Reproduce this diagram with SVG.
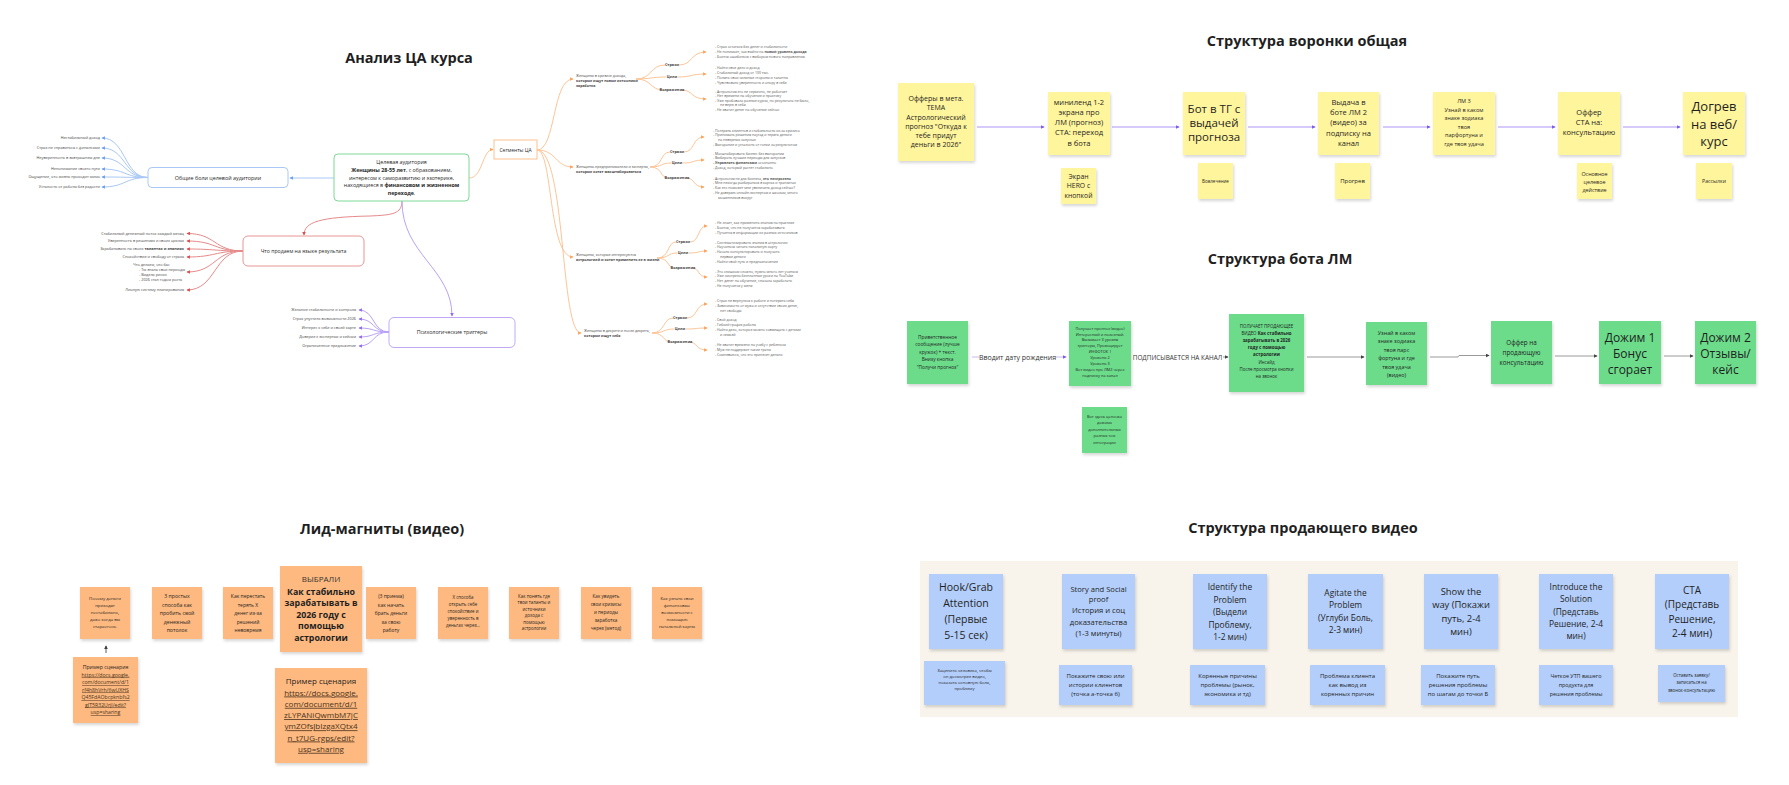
<svg xmlns="http://www.w3.org/2000/svg" width="1789" height="785" viewBox="0 0 1789 785">
<style>
text{font-family:"Open Sans","Liberation Sans",sans-serif;fill:#1f1f1f}
.title{font-size:14.5px;font-weight:700;text-anchor:middle}
.c{text-anchor:middle}
.r{text-anchor:end}
.b{font-weight:700}
.mm{fill:#fff;stroke-width:1}
.leaf{font-size:3.8px;fill:#444}
.seg{font-size:3.6px;fill:#444}
.lst{font-size:3.5px;fill:#555}
.lbl{font-size:3.8px;font-weight:700;fill:#444}
.y{fill:#fff59c}
.g{fill:#6cdc8b}
.o{fill:#fdb97f}
.bl{fill:#b3cefa}
.lnk{text-decoration:underline;fill:#4a3320}
.cb{fill:none;stroke:#a9c8f5;stroke-width:1}
.cr{fill:none;stroke:#e68a8a;stroke-width:1}
.cp{fill:none;stroke:#b9a2f6;stroke-width:1}
.co{fill:none;stroke:#fdc597;stroke-width:1}
.cf{fill:none;stroke:#c9b8f8;stroke-width:1.5}
.cg{fill:none;stroke:#9a9a9a;stroke-width:1}
</style>
<defs>
<filter id="sh" x="-10%" y="-10%" width="130%" height="130%"><feDropShadow dx="1" dy="2" stdDeviation="1.6" flood-color="#000" flood-opacity="0.16"/></filter>
<marker id="mb" viewBox="0 0 6 6" refX="5" refY="3" markerWidth="3.5" markerHeight="3.5" orient="auto" markerUnits="userSpaceOnUse"><path d="M0,0 L6,3 L0,6z" fill="#6d9ff0"/></marker>
<marker id="mr" viewBox="0 0 6 6" refX="5" refY="3" markerWidth="3.5" markerHeight="3.5" orient="auto" markerUnits="userSpaceOnUse"><path d="M0,0 L6,3 L0,6z" fill="#d94c4c"/></marker>
<marker id="mp" viewBox="0 0 6 6" refX="5" refY="3" markerWidth="3.5" markerHeight="3.5" orient="auto" markerUnits="userSpaceOnUse"><path d="M0,0 L6,3 L0,6z" fill="#8f6cf0"/></marker>
<marker id="mo" viewBox="0 0 6 6" refX="5" refY="3" markerWidth="3.5" markerHeight="3.5" orient="auto" markerUnits="userSpaceOnUse"><path d="M0,0 L6,3 L0,6z" fill="#fba35c"/></marker>
<marker id="mf" viewBox="0 0 6 6" refX="5" refY="3" markerWidth="4" markerHeight="4" orient="auto" markerUnits="userSpaceOnUse"><path d="M0,0 L6,3 L0,6z" fill="#7b5cf0"/></marker>
<marker id="mg" viewBox="0 0 6 6" refX="5" refY="3" markerWidth="4" markerHeight="4" orient="auto" markerUnits="userSpaceOnUse"><path d="M0,0 L6,3 L0,6z" fill="#444"/></marker>
</defs>
<rect width="1789" height="785" fill="#fff"/>

<!-- ===== Анализ ЦА курса ===== -->
<text class="title" x="409" y="63">Анализ ЦА курса</text>

<g id="connectors-mindmap">
<path class="cb" d="M334,178 L290,178" marker-end="url(#mb)"/>
<path class="co" d="M469,178 C483,178 482,149.5 493,149.5" marker-end="url(#mo)"/>
<path class="cr" d="M402,201 C402,214 392,215 370,216 C320,217 304,222 304,235" marker-end="url(#mr)"/>
<path class="cp" d="M402,201 C402,255 452,268 452,316" marker-end="url(#mp)"/>
<path class="cb" d="M148,177.5 C124,177.5 126,138 102,138" marker-end="url(#mb)"/>
<path class="cb" d="M148,177.5 C124,177.5 126,148 102,148" marker-end="url(#mb)"/>
<path class="cb" d="M148,177.5 C124,177.5 126,158 102,158" marker-end="url(#mb)"/>
<path class="cb" d="M148,177.5 C124,177.5 126,169 102,169" marker-end="url(#mb)"/>
<path class="cb" d="M148,177.5 C124,177.5 126,177 102,177" marker-end="url(#mb)"/>
<path class="cb" d="M148,177.5 C124,177.5 126,187 102,187" marker-end="url(#mb)"/>
<path class="cr" d="M243,251 C214,251 216,233.5 187,233.5" marker-end="url(#mr)"/>
<path class="cr" d="M243,251 C214,251 216,241 187,241" marker-end="url(#mr)"/>
<path class="cr" d="M243,251 C214,251 216,249 187,249" marker-end="url(#mr)"/>
<path class="cr" d="M243,251 C214,251 216,257 187,257" marker-end="url(#mr)"/>
<path class="cr" d="M243,251 C214,251 216,272 187,272" marker-end="url(#mr)"/>
<path class="cr" d="M243,251 C214,251 216,290 187,290" marker-end="url(#mr)"/>
<path class="cp" d="M389,332 C372,332 375,310 359,310" marker-end="url(#mp)"/>
<path class="cp" d="M389,332 C372,332 375,319 359,319" marker-end="url(#mp)"/>
<path class="cp" d="M389,332 C372,332 375,328 359,328" marker-end="url(#mp)"/>
<path class="cp" d="M389,332 C372,332 375,337 359,337" marker-end="url(#mp)"/>
<path class="cp" d="M389,332 C372,332 375,346 359,346" marker-end="url(#mp)"/>
<path class="co" d="M537,150 C556,150 552,79 573,79" marker-end="url(#mo)"/>
<path class="co" d="M537,150 C557,150 555,167 573,167" marker-end="url(#mo)"/>
<path class="co" d="M537,150 C553,150 548,257 573,257" marker-end="url(#mo)"/>
<path class="co" d="M537,150 C566,150 560,333 581,333" marker-end="url(#mo)"/>
<path class="co" d="M636,79 C652,79 650,65 665,65 M679,65 C693,65 690,52 706,52" marker-end="url(#mo)"/>
<path class="co" d="M636,79 C652,79 650,77 666,77 M678,77 C692,77 690,74 706,74" marker-end="url(#mo)"/>
<path class="co" d="M636,79 C652,79 650,90 663,90 M681,90 C694,90 690,99 706,99" marker-end="url(#mo)"/>
<path class="co" d="M650,167 C663,167 660,152 670,152 M684,152 C695,152 692,137 704,137" marker-end="url(#mo)"/>
<path class="co" d="M650,167 C663,167 660,163 671,163 M683,163 C695,163 692,160 704,160" marker-end="url(#mo)"/>
<path class="co" d="M650,167 C663,167 660,178 668,178 M686,178 C696,178 692,187 704,187" marker-end="url(#mo)"/>
<path class="co" d="M657,258 C670,258 667,242 676,242 M690,242 C700,242 697,226 707,226" marker-end="url(#mo)"/>
<path class="co" d="M657,258 C670,258 667,253 677,253 M689,253 C700,253 697,251 707,251" marker-end="url(#mo)"/>
<path class="co" d="M657,258 C670,258 667,268 674,268 M692,268 C700,268 697,277 707,277" marker-end="url(#mo)"/>
<path class="co" d="M652,333 C665,333 663,318 673,318 M687,318 C698,318 695,304 707,304" marker-end="url(#mo)"/>
<path class="co" d="M652,333 C665,333 663,329 674,329 M686,329 C698,329 695,328 707,328" marker-end="url(#mo)"/>
<path class="co" d="M652,333 C665,333 663,342 671,342 M689,342 C698,342 695,350 707,350" marker-end="url(#mo)"/>
</g>

<g id="node-central">
<rect class="mm" x="334" y="154" width="135" height="47" rx="4" stroke="#7fd894"/>
<text class="c" x="401.5" y="164" font-size="5.3">Целевая аудитория</text>
<text class="c" x="401.5" y="171.8" font-size="5.3"><tspan class="b">Женщины 28-55 лет</tspan>, с образованием,</text>
<text class="c" x="401.5" y="179.6" font-size="5.3">интересом к саморазвитию и эзотерике,</text>
<text class="c" x="401.5" y="187.4" font-size="5.3">находящиеся в <tspan class="b">финансовом и жизненном</tspan></text>
<text class="c" x="401.5" y="195.2" font-size="5.3"><tspan class="b">переходе</tspan>.</text>
</g>
<g id="node-segments">
<rect class="mm" x="494" y="140" width="43" height="19" stroke="#fdc08f"/>
<text class="c" x="515.5" y="151.5" font-size="5">Сегменты ЦА</text>
</g>
<g id="node-pains">
<rect class="mm" x="148" y="167.5" width="140" height="20" rx="4" stroke="#a9c8f5"/>
<text class="c" x="218" y="179.5" font-size="5.4">Общие боли целевой аудитории</text>
</g>
<g id="node-sell">
<rect class="mm" x="243" y="236" width="121" height="30" rx="5" stroke="#e89595"/>
<text class="c" x="303.5" y="252.8" font-size="5.2">Что продаем на языке результата</text>
</g>
<g id="node-triggers">
<rect class="mm" x="389" y="317.5" width="126" height="30" rx="5" stroke="#bfa9f7"/>
<text class="c" x="452" y="334.3" font-size="5.3">Психологические триггеры</text>
</g>

<g id="leaves-pains">
<text class="leaf r" x="100" y="139.3">Нестабильный доход</text>
<text class="leaf r" x="100" y="149.3">Страх не справиться с финансами</text>
<text class="leaf r" x="100" y="159.3">Неуверенность в завтрашнем дне</text>
<text class="leaf r" x="100" y="170.3">Непонимание своего пути</text>
<text class="leaf r" x="100" y="178.3">Ощущение, что жизнь проходит мимо</text>
<text class="leaf r" x="100" y="188.3">Усталость от работы без радости</text>
</g>
<g id="leaves-sell">
<text class="leaf r" x="184" y="234.8">Стабильный денежный поток каждый месяц</text>
<text class="leaf r" x="184" y="242.3">Уверенность в решениях и своих циклах</text>
<text class="leaf r" x="184" y="250.3">Зарабатывать на своих <tspan class="b">талантах и знаниях</tspan></text>
<text class="leaf r" x="184" y="258.3">Спокойствие и свободу от страха</text>
<text class="leaf" x="133" y="266">Что делаем, что бы:</text>
<text class="leaf" x="139" y="271">-  Ты знала свои периоды</text>
<text class="leaf" x="139" y="276">-  Видела риски</text>
<text class="leaf" x="139" y="281">-  2026 стал годом роста</text>
<text class="leaf r" x="184" y="291.3">Личную систему планирования</text>
</g>
<g id="leaves-triggers">
<text class="leaf r" x="356" y="311.3">Желание стабильности и контроля</text>
<text class="leaf r" x="356" y="320.3">Страх упустить возможности 2026</text>
<text class="leaf r" x="356" y="329.3">Интерес к себе и своей карте</text>
<text class="leaf r" x="356" y="338.3">Доверие к экспертам и кейсам</text>
<text class="leaf r" x="356" y="347.3">Ограниченное предложение</text>
</g>

<g id="segment-1">
<text class="seg" x="576" y="76.5">Женщины в кризисе дохода,</text>
<text class="seg b" x="576" y="81.5">которые ищут новые источники</text>
<text class="seg b" x="576" y="86.5">заработка</text>
<text class="lbl c" x="672" y="66.3">Страхи</text>
<text class="lbl c" x="672" y="78.3">Цели</text>
<text class="lbl c" x="672" y="91.3">Возражения</text>
<text class="lst" x="715" y="47.5">-  Страх остаться без денег и стабильности</text>
<text class="lst" x="715" y="52.5">-  Не понимает, как выйти на <tspan class="b">новый уровень дохода</tspan></text>
<text class="lst" x="715" y="57.5">-  Боится ошибиться с выбором нового направления</text>
<text class="lst" x="715" y="68.5">-  Найти свое дело и доход</text>
<text class="lst" x="715" y="73.5">-  Стабильный доход от 100 тыс.</text>
<text class="lst" x="715" y="78.5">-  Понять свои сильные стороны и таланты</text>
<text class="lst" x="715" y="83.5">-  Чувствовать уверенность и опору в себе</text>
<text class="lst" x="715" y="92.5">-  Астрология это не серьезно, не работает</text>
<text class="lst" x="715" y="97">-  Нет времени на обучение и практику</text>
<text class="lst" x="715" y="101.5">-  Уже пробовала разные курсы, но результата не было,</text>
<text class="lst" x="720" y="106">не верю в себя</text>
<text class="lst" x="715" y="110.5">-  Не хватит денег на обучение сейчас</text>
</g>
<g id="segment-2">
<text class="seg" x="576" y="168">Женщины-предприниматели и эксперты,</text>
<text class="seg b" x="576" y="173">которые хотят масштабироваться</text>
<text class="lbl c" x="677" y="153.3">Страхи</text>
<text class="lbl c" x="677" y="164.3">Цели</text>
<text class="lbl c" x="677" y="179.3">Возражения</text>
<text class="lst" x="713" y="131.5">-  Потерять клиентов и стабильность из-за кризиса</text>
<text class="lst" x="713" y="136">-  Принимать решения наугад и терять деньги</text>
<text class="lst" x="718" y="140.5">на неверных запусках</text>
<text class="lst" x="713" y="145.5">-  Выгорание и усталость от гонки за результатом</text>
<text class="lst" x="713" y="154.5">-  Масштабировать бизнес без выгорания</text>
<text class="lst" x="713" y="159">-  Выбирать лучшие периоды для запусков</text>
<text class="lst" x="713" y="163.5"><tspan class="b">-  Управлять финансами</tspan> осознанно</text>
<text class="lst" x="713" y="168.5">-  Доход, который растет стабильно</text>
<text class="lst" x="713" y="179.5">-  Астрология не для бизнеса, <tspan class="b">это несерьезно</tspan></text>
<text class="lst" x="713" y="184">-  Мне некогда разбираться в картах и транзитах</text>
<text class="lst" x="713" y="188.5">-  Как это поможет мне увеличить доход сейчас?</text>
<text class="lst" x="713" y="193.5">-  Не доверяю онлайн-экспертам и школам, много</text>
<text class="lst" x="718" y="198.5">мошенников вокруг</text>
</g>
<g id="segment-3">
<text class="seg" x="576" y="256">Женщины, которые интересуются</text>
<text class="seg b" x="576" y="261">астрологией и хотят применить ее в жизни</text>
<text class="lbl c" x="683" y="243.3">Страхи</text>
<text class="lbl c" x="683" y="254.3">Цели</text>
<text class="lbl c" x="683" y="269.3">Возражения</text>
<text class="lst" x="715" y="223.5">-  Не знает, как применить знания на практике</text>
<text class="lst" x="715" y="228.5">-  Боится, что не получится зарабатывать</text>
<text class="lst" x="715" y="233.5">-  Путается в информации из разных источников</text>
<text class="lst" x="715" y="243.5">-  Систематизировать знания в астрологии</text>
<text class="lst" x="715" y="248">-  Научиться читать натальную карту</text>
<text class="lst" x="715" y="252.5">-  Начать консультировать и получать</text>
<text class="lst" x="720" y="257.5">первые деньги</text>
<text class="lst" x="715" y="262.5">-  Найти свой путь и предназначение</text>
<text class="lst" x="715" y="272.5">-  Это слишком сложно, нужно много лет учиться</text>
<text class="lst" x="715" y="277">-  Уже смотрела бесплатные уроки на YouTube</text>
<text class="lst" x="715" y="281.5">-  Нет денег на обучение, сначала заработать</text>
<text class="lst" x="715" y="286.5">-  Не получится у меня</text>
</g>
<g id="segment-4">
<text class="seg" x="584" y="332">Женщины в декрете и после декрета,</text>
<text class="seg b" x="584" y="337">которые ищут себя</text>
<text class="lbl c" x="680" y="319.3">Страхи</text>
<text class="lbl c" x="680" y="330.3">Цели</text>
<text class="lbl c" x="680" y="343.3">Возражения</text>
<text class="lst" x="715" y="301.5">-  Страх не вернуться к работе и потерять себя</text>
<text class="lst" x="715" y="306.5">-  Зависимость от мужа и отсутствие своих денег,</text>
<text class="lst" x="720" y="311.5">нет свободы</text>
<text class="lst" x="715" y="320.5">-  Свой доход</text>
<text class="lst" x="715" y="325.5">-  Гибкий график работы</text>
<text class="lst" x="715" y="330.5">-  Найти дело, которое можно совмещать с детьми</text>
<text class="lst" x="720" y="335.5">и семьей</text>
<text class="lst" x="715" y="345.5">-  Не хватит времени на учебу с ребенком</text>
<text class="lst" x="715" y="350.5">-  Муж не поддержит такие траты</text>
<text class="lst" x="715" y="355.5">-  Сомневаюсь, что это принесет деньги</text>
</g>

<!-- ===== Структура воронки общая ===== -->
<text class="title" x="1307" y="46">Структура воронки общая</text>
<g id="connectors-funnel">
<path class="cf" d="M977,127 L1044,127" marker-end="url(#mf)"/>
<path class="cf" d="M1112,127 L1179,127" marker-end="url(#mf)"/>
<path class="cf" d="M1248,127 L1315,127" marker-end="url(#mf)"/>
<path class="cf" d="M1383,127 L1430,127" marker-end="url(#mf)"/>
<path class="cf" d="M1498,127 L1555,127" marker-end="url(#mf)"/>
<path class="cf" d="M1623,127 L1680,127" marker-end="url(#mf)"/>
</g>
<g id="f1"><rect class="y" x="898" y="83" width="76" height="78" filter="url(#sh)"/>
<text class="c" x="936" font-size="7"><tspan x="936" y="101">Офферы в мета.</tspan><tspan x="936" y="110">ТЕМА</tspan><tspan x="936" y="119.5">Астрологический</tspan><tspan x="936" y="128.5">прогноз &quot;Откуда к</tspan><tspan x="936" y="137.5">тебе придут</tspan><tspan x="936" y="147">деньги в 2026&quot;</tspan></text></g>
<g id="f2"><rect class="y" x="1048" y="92" width="62" height="63" filter="url(#sh)"/>
<text class="c" font-size="7.5"><tspan x="1079" y="105">миниленд 1-2</tspan><tspan x="1079" y="115">экрана про</tspan><tspan x="1079" y="125">ЛМ (прогноз)</tspan><tspan x="1079" y="135">СТА: переход</tspan><tspan x="1079" y="145.5">в бота</tspan></text></g>
<g id="f2s"><rect class="y" x="1061" y="168" width="35" height="36" filter="url(#sh)"/>
<text class="c" font-size="6.8"><tspan x="1078.5" y="178.5">Экран</tspan><tspan x="1078.5" y="188.3">HERO с</tspan><tspan x="1078.5" y="198">кнопкой</tspan></text></g>
<g id="f3"><rect class="y" x="1183" y="92" width="62" height="63" filter="url(#sh)"/>
<text class="c" font-size="11.5"><tspan x="1214" y="113">Бот в ТГ с</tspan><tspan x="1214" y="127">выдачей</tspan><tspan x="1214" y="141">прогноза</tspan></text></g>
<g id="f3s"><rect class="y" x="1198" y="163" width="35" height="36" filter="url(#sh)"/>
<text class="c" x="1215.5" y="182.5" font-size="4.5">Вовлечение</text></g>
<g id="f4"><rect class="y" x="1318" y="92" width="61" height="63" filter="url(#sh)"/>
<text class="c" font-size="7.5"><tspan x="1348.5" y="105">Выдача в</tspan><tspan x="1348.5" y="115">боте ЛМ 2</tspan><tspan x="1348.5" y="125">(видео) за</tspan><tspan x="1348.5" y="135.5">подписку на</tspan><tspan x="1348.5" y="146">канал</tspan></text></g>
<g id="f4s"><rect class="y" x="1335" y="163" width="35" height="36" filter="url(#sh)"/>
<text class="c" x="1352.5" y="183" font-size="6">Прогрев</text></g>
<g id="f5"><rect class="y" x="1433" y="92" width="62" height="63" filter="url(#sh)"/>
<text class="c" font-size="5.6"><tspan x="1464" y="103">ЛМ 3</tspan><tspan x="1464" y="111.5">Узнай в каком</tspan><tspan x="1464" y="120.2">знаке зодиака</tspan><tspan x="1464" y="128.8">твоя</tspan><tspan x="1464" y="137.4">парфортуна и</tspan><tspan x="1464" y="146">где твоя удача</tspan></text></g>
<g id="f6"><rect class="y" x="1558" y="92" width="62" height="63" filter="url(#sh)"/>
<text class="c" font-size="7.5"><tspan x="1589" y="115">Оффер</tspan><tspan x="1589" y="125">СТА на:</tspan><tspan x="1589" y="135">консультацию</tspan></text></g>
<g id="f6s"><rect class="y" x="1577" y="163" width="35" height="36" filter="url(#sh)"/>
<text class="c" font-size="5.4"><tspan x="1594.5" y="175.5">Основное</tspan><tspan x="1594.5" y="183.5">целевое</tspan><tspan x="1594.5" y="191.5">действие</tspan></text></g>
<g id="f7"><rect class="y" x="1683" y="92" width="62" height="63" filter="url(#sh)"/>
<text class="c" font-size="13"><tspan x="1714" y="111">Догрев</tspan><tspan x="1714" y="128.5">на веб/</tspan><tspan x="1714" y="146">курс</tspan></text></g>
<g id="f7s"><rect class="y" x="1696" y="163" width="36" height="36" filter="url(#sh)"/>
<text class="c" x="1714" y="183" font-size="5.2">Рассылки</text></g>

<!-- ===== Структура бота ЛМ ===== -->
<text class="title" x="1280" y="264">Структура бота ЛМ</text>
<g id="connectors-bot">
<path class="cf" d="M972,357 L979,357" style="stroke-width:1"/>
<path class="cf" d="M1056,357 L1066,357" style="stroke-width:1" marker-end="url(#mf)"/>
<path class="cg" d="M1223,357 L1228,357" marker-end="url(#mg)"/>
<path class="cg" d="M1307,357 L1364,357" marker-end="url(#mg)"/>
<path class="cg" d="M1430,357 L1458,357 L1459,355.5 L1489,355.5" marker-end="url(#mg)"/>
<path class="cg" d="M1555,356 L1597,356" marker-end="url(#mg)"/>
<path class="cg" d="M1664,356 L1693,356" marker-end="url(#mg)"/>
<text x="1017.5" y="359.5" class="c" font-size="7" style="fill:#333">Вводит дату рождения</text>
<text x="1177.5" y="359.5" class="c" font-size="6.4" style="fill:#333">ПОДПИСЫВАЕТСЯ НА КАНАЛ</text>
</g>
<g id="g1"><rect class="g" x="907" y="321" width="61" height="63" filter="url(#sh)"/>
<text class="c" font-size="4.8"><tspan x="937.5" y="338.5">Приветственное</tspan><tspan x="937.5" y="346">сообщение (лучше</tspan><tspan x="937.5" y="353.5">кружок) + текст.</tspan><tspan x="937.5" y="361">Внизу кнопка</tspan><tspan x="937.5" y="368.5">&quot;Получи прогноз&quot;</tspan></text></g>
<g id="g2"><rect class="g" x="1069" y="321" width="62" height="65" filter="url(#sh)"/>
<text class="c" font-size="3.9"><tspan x="1100" y="330">Получает прогноз (видео)</tspan><tspan x="1100" y="335.5">Интересный и полезный.</tspan><tspan x="1100" y="341">Вызывает 3 уровня</tspan><tspan x="1100" y="346.5">триггеры, Провоцирует</tspan><tspan x="1100" y="353">ИНФОТОК 1</tspan><tspan x="1100" y="359">Уровень 2</tspan><tspan x="1100" y="364.5">Уровень 3</tspan><tspan x="1100" y="370.5">Вот видео про ЛМ2 через</tspan><tspan x="1100" y="377">подписку на канал</tspan></text></g>
<g id="g2s"><rect class="g" x="1082" y="407" width="45" height="46" filter="url(#sh)"/>
<text class="c" font-size="3.9"><tspan x="1104.5" y="418">Вот здесь цепочка</tspan><tspan x="1104.5" y="424">дожима</tspan><tspan x="1104.5" y="430.5">дополнительных</tspan><tspan x="1104.5" y="437">разных тем</tspan><tspan x="1104.5" y="443.5">интеграции</tspan></text></g>
<g id="g3"><rect class="g" x="1229" y="314" width="75" height="78" filter="url(#sh)"/>
<text class="c" font-size="4.4"><tspan x="1266.5" y="328">ПОЛУЧАЕТ ПРОДАЮЩЕЕ</tspan><tspan x="1266.5" y="335">ВИДЕО <tspan class="b">Как стабильно</tspan></tspan><tspan x="1266.5" y="342" class="b">зарабатывать в 2026</tspan><tspan x="1266.5" y="349" class="b">году с помощью</tspan><tspan x="1266.5" y="356" class="b">астрологии</tspan><tspan x="1266.5" y="363.5">Инсайд</tspan><tspan x="1266.5" y="370.5">После просмотра кнопки</tspan><tspan x="1266.5" y="377.5">на звонок</tspan></text></g>
<g id="g4"><rect class="g" x="1366" y="322" width="61" height="63" filter="url(#sh)"/>
<text class="c" font-size="5.4"><tspan x="1396.5" y="334.5">Узнай в каком</tspan><tspan x="1396.5" y="343">знаке зодиака</tspan><tspan x="1396.5" y="351.5">твоя парс</tspan><tspan x="1396.5" y="360">фортуна и где</tspan><tspan x="1396.5" y="368.5">твоя удача</tspan><tspan x="1396.5" y="377">(видео)</tspan></text></g>
<g id="g5"><rect class="g" x="1491" y="321" width="61" height="63" filter="url(#sh)"/>
<text class="c" font-size="6.3"><tspan x="1521.5" y="344.5">Оффер на</tspan><tspan x="1521.5" y="354.5">продающую</tspan><tspan x="1521.5" y="364.5">консультацию</tspan></text></g>
<g id="g6"><rect class="g" x="1599" y="321" width="62" height="63" filter="url(#sh)"/>
<text class="c" font-size="12"><tspan x="1630" y="341.5">Дожим 1</tspan><tspan x="1630" y="357.5">Бонус</tspan><tspan x="1630" y="373.5">сгорает</tspan></text></g>
<g id="g7"><rect class="g" x="1695" y="321" width="61" height="63" filter="url(#sh)"/>
<text class="c" font-size="12"><tspan x="1725.5" y="341.5">Дожим 2</tspan><tspan x="1725.5" y="357.5">Отзывы/</tspan><tspan x="1725.5" y="373.5">кейс</tspan></text></g>

<!-- ===== Лид-магниты (видео) ===== -->
<text class="title" x="382" y="534">Лид-магниты (видео)</text>
<g id="connectors-lm">
<path d="M106,653 L106,646" stroke="#333" stroke-width="0.8" fill="none" marker-end="url(#mg)"/>
</g>
<g id="o1"><rect class="o" x="80" y="587" width="50" height="52" filter="url(#sh)"/>
<text class="c" font-size="4.3"><tspan x="105" y="600">Почему деньги</tspan><tspan x="105" y="607">приходят</tspan><tspan x="105" y="614">нестабильно,</tspan><tspan x="105" y="621">даже когда вы</tspan><tspan x="105" y="628">стараетесь.</tspan></text></g>
<g id="o1s"><rect class="o" x="73" y="657" width="65" height="66" filter="url(#sh)"/>
<text class="c" font-size="5.2"><tspan x="105.5" y="669">Пример сценария</tspan><tspan x="105.5" y="676.5" class="lnk">https://docs.google.</tspan><tspan x="105.5" y="684" class="lnk">com/document/d/1</tspan><tspan x="105.5" y="691.5" class="lnk">rf4h8hVrh/6wUXHS</tspan><tspan x="105.5" y="699" class="lnk">Q45FdAObcpknbfs2</tspan><tspan x="105.5" y="706.5" class="lnk">gJT5R32Urjl/edit?</tspan><tspan x="105.5" y="714" class="lnk">usp=sharing</tspan></text></g>
<g id="o2"><rect class="o" x="152" y="587" width="50" height="52" filter="url(#sh)"/>
<text class="c" font-size="5.2"><tspan x="177" y="598">3 простых</tspan><tspan x="177" y="606.5">способа как</tspan><tspan x="177" y="615">пробить свой</tspan><tspan x="177" y="623.5">денежный</tspan><tspan x="177" y="632">потолок</tspan></text></g>
<g id="o3"><rect class="o" x="223" y="587" width="50" height="52" filter="url(#sh)"/>
<text class="c" font-size="5"><tspan x="248" y="598">Как перестать</tspan><tspan x="248" y="606.5">терять Х</tspan><tspan x="248" y="615">денег из-за</tspan><tspan x="248" y="623.5">решений</tspan><tspan x="248" y="632">невовремя</tspan></text></g>
<g id="o4"><rect class="o" x="280" y="566" width="82" height="86" filter="url(#sh)"/>
<text class="c" font-size="8" style="fill:#333"><tspan x="321" y="582">ВЫБРАЛИ</tspan></text>
<text class="c b" font-size="8.8"><tspan x="321" y="594.5">Как стабильно</tspan><tspan x="321" y="606">зарабатывать в</tspan><tspan x="321" y="617.5">2026 году с</tspan><tspan x="321" y="629">помощью</tspan><tspan x="321" y="640.5">астрологии</tspan></text></g>
<g id="o4s"><rect class="o" x="275" y="668" width="92" height="95" filter="url(#sh)"/>
<text class="c" font-size="8"><tspan x="321" y="684">Пример сценария</tspan><tspan x="321" y="695.5" class="lnk">https://docs.google.</tspan><tspan x="321" y="706.8" class="lnk">com/document/d/1</tspan><tspan x="321" y="718" class="lnk">zLYPANiQwmbM7jC</tspan><tspan x="321" y="729.3" class="lnk">ymZOfsJbIzgaXQtx4</tspan><tspan x="321" y="740.5" class="lnk">n_t7UG-rgps/edit?</tspan><tspan x="321" y="751.8" class="lnk">usp=sharing</tspan></text></g>
<g id="o5"><rect class="o" x="366" y="587" width="50" height="52" filter="url(#sh)"/>
<text class="c" font-size="5"><tspan x="391" y="598">(3 приема)</tspan><tspan x="391" y="606.5">как начать</tspan><tspan x="391" y="615">брать деньги</tspan><tspan x="391" y="623.5">за свою</tspan><tspan x="391" y="632">работу</tspan></text></g>
<g id="o6"><rect class="o" x="438" y="587" width="50" height="52" filter="url(#sh)"/>
<text class="c" font-size="4.4"><tspan x="463" y="599">Х способа</tspan><tspan x="463" y="606">открыть себе</tspan><tspan x="463" y="613">спокойствие и</tspan><tspan x="463" y="620">уверенность в</tspan><tspan x="463" y="627">деньгах через...</tspan></text></g>
<g id="o7"><rect class="o" x="509" y="587" width="50" height="52" filter="url(#sh)"/>
<text class="c" font-size="4.4"><tspan x="534" y="597.5">Как понять где</tspan><tspan x="534" y="604">твои таланты и</tspan><tspan x="534" y="610.5">источники</tspan><tspan x="534" y="617">дохода с</tspan><tspan x="534" y="623.5">помощью</tspan><tspan x="534" y="630">астрологии</tspan></text></g>
<g id="o8"><rect class="o" x="581" y="587" width="50" height="52" filter="url(#sh)"/>
<text class="c" font-size="4.6"><tspan x="606" y="597.5">Как увидеть</tspan><tspan x="606" y="605.5">свои кризисы</tspan><tspan x="606" y="613.5">и периоды</tspan><tspan x="606" y="621.5">заработка</tspan><tspan x="606" y="629.5">через (метод)</tspan></text></g>
<g id="o9"><rect class="o" x="652" y="587" width="50" height="52" filter="url(#sh)"/>
<text class="c" font-size="4.3"><tspan x="677" y="600">Как узнать свои</tspan><tspan x="677" y="607">финансовые</tspan><tspan x="677" y="614">возможности с</tspan><tspan x="677" y="621">помощью</tspan><tspan x="677" y="628">натальной карты</tspan></text></g>

<!-- ===== Структура продающего видео ===== -->
<text class="title" x="1303" y="533">Структура продающего видео</text>
<rect x="920" y="561" width="818" height="156" fill="#f8f4ec"/>
<g id="v1"><rect class="bl" x="929" y="574" width="74" height="75" filter="url(#sh)"/>
<text class="c" font-size="10.5"><tspan x="966" y="590.5">Hook/Grab</tspan><tspan x="966" y="606.5">Attention</tspan><tspan x="966" y="622.5">(Первые</tspan><tspan x="966" y="639">5-15 сек)</tspan></text></g>
<g id="v1s"><rect class="bl" x="924" y="661" width="81" height="44" filter="url(#sh)"/>
<text class="c" font-size="4.2"><tspan x="964.5" y="672">Зацепить человека, чтобы</tspan><tspan x="964.5" y="678">он досмотрел видео,</tspan><tspan x="964.5" y="684">показать основную боль,</tspan><tspan x="964.5" y="690">проблему</tspan></text></g>
<g id="v2"><rect class="bl" x="1062" y="574" width="73" height="75" filter="url(#sh)"/>
<text class="c" font-size="7.6"><tspan x="1098.5" y="591.5">Story and Social</tspan><tspan x="1098.5" y="602">proof</tspan><tspan x="1098.5" y="613">История и соц</tspan><tspan x="1098.5" y="624.5">доказательства</tspan><tspan x="1098.5" y="636">(1-3 минуты)</tspan></text></g>
<g id="v2s"><rect class="bl" x="1059" y="665" width="73" height="40" filter="url(#sh)"/>
<text class="c" font-size="6"><tspan x="1095.5" y="678">Покажите свою или</tspan><tspan x="1095.5" y="687">истории клиентов</tspan><tspan x="1095.5" y="696">(точка а-точка б)</tspan></text></g>
<g id="v3"><rect class="bl" x="1193" y="574" width="74" height="75" filter="url(#sh)"/>
<text class="c" font-size="8.4"><tspan x="1230" y="590">Identify the</tspan><tspan x="1230" y="602.5">Problem</tspan><tspan x="1230" y="615">(Выдели</tspan><tspan x="1230" y="627.5">Проблему,</tspan><tspan x="1230" y="640">1-2 мин)</tspan></text></g>
<g id="v3s"><rect class="bl" x="1190" y="665" width="75" height="40" filter="url(#sh)"/>
<text class="c" font-size="6"><tspan x="1227.5" y="678">Коренные причины</tspan><tspan x="1227.5" y="687">проблемы (рынок,</tspan><tspan x="1227.5" y="696">экономика и тд)</tspan></text></g>
<g id="v4"><rect class="bl" x="1308" y="574" width="75" height="75" filter="url(#sh)"/>
<text class="c" font-size="8.4"><tspan x="1345.5" y="596">Agitate the</tspan><tspan x="1345.5" y="608">Problem</tspan><tspan x="1345.5" y="620.5">(Углуби Боль,</tspan><tspan x="1345.5" y="632.5">2-3 мин)</tspan></text></g>
<g id="v4s"><rect class="bl" x="1310" y="665" width="75" height="40" filter="url(#sh)"/>
<text class="c" font-size="6"><tspan x="1347.5" y="678">Проблема клиента</tspan><tspan x="1347.5" y="687">как вывод из</tspan><tspan x="1347.5" y="696">коренных причин</tspan></text></g>
<g id="v5"><rect class="bl" x="1424" y="574" width="74" height="75" filter="url(#sh)"/>
<text class="c" font-size="9.4"><tspan x="1461" y="594.5">Show the</tspan><tspan x="1461" y="608">way (Покажи</tspan><tspan x="1461" y="621.5">путь, 2-4</tspan><tspan x="1461" y="635">мин)</tspan></text></g>
<g id="v5s"><rect class="bl" x="1421" y="665" width="74" height="40" filter="url(#sh)"/>
<text class="c" font-size="6"><tspan x="1458" y="678">Покажите путь</tspan><tspan x="1458" y="687">решения проблемы</tspan><tspan x="1458" y="696">по шагам до точки Б</tspan></text></g>
<g id="v6"><rect class="bl" x="1539" y="574" width="74" height="75" filter="url(#sh)"/>
<text class="c" font-size="8.4"><tspan x="1576" y="590">Introduce the</tspan><tspan x="1576" y="602.3">Solution</tspan><tspan x="1576" y="614.6">(Представь</tspan><tspan x="1576" y="626.9">Решение, 2-4</tspan><tspan x="1576" y="639.2">мин)</tspan></text></g>
<g id="v6s"><rect class="bl" x="1539" y="665" width="74" height="40" filter="url(#sh)"/>
<text class="c" font-size="5.4"><tspan x="1576" y="678">Четкое УТП вашего</tspan><tspan x="1576" y="687">продукта для</tspan><tspan x="1576" y="696">решения проблемы</tspan></text></g>
<g id="v7"><rect class="bl" x="1655" y="574" width="74" height="75" filter="url(#sh)"/>
<text class="c" font-size="10"><tspan x="1692" y="593.5">CTA</tspan><tspan x="1692" y="608">(Представь</tspan><tspan x="1692" y="622.5">Решение,</tspan><tspan x="1692" y="637">2-4 мин)</tspan></text></g>
<g id="v7s"><rect class="bl" x="1658" y="665" width="67" height="37" filter="url(#sh)"/>
<text class="c" font-size="4.4"><tspan x="1691.5" y="676.5">Оставить заявку/</tspan><tspan x="1691.5" y="684">записаться на</tspan><tspan x="1691.5" y="691.5">звонок-консультацию</tspan></text></g>
</svg>
